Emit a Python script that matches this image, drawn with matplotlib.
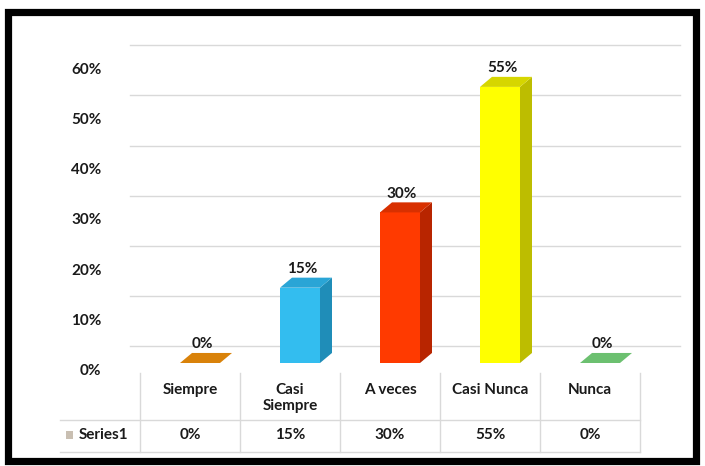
import matplotlib
matplotlib.use("Agg")
import matplotlib.pyplot as plt
import matplotlib.transforms as mtransforms
from matplotlib.patches import Polygon, Rectangle

categories  = ["Siempre", "Casi\nSiempre", "A veces", "Casi Nunca", "Nunca"]
values      = [0, 15, 30, 55, 0]
series_name = "Series1"
yticks      = [0, 10, 20, 30, 40, 50, 60]

FRONT = ["#D9820A", "#33BDEF", "#FF3A00", "#FFFF00", "#6CC070"]
SIDE  = ["#A86000", "#1F8DB8", "#B82500", "#BDBD00", "#4E9A52"]
TOP   = ["#C87500", "#2AA5D6", "#D83000", "#D6D600", "#7ACB7E"]

W, H = 705, 466
FS = 11
fig = plt.figure(figsize=(W / 100, H / 100), dpi=100)
fig.patch.set_facecolor("white")
plt.rcParams["font.family"] = ["Lato", "DejaVu Sans"]

def fy(py):
    return 1 - py / H

# plot area: index i -> px 200+100i ; 0% -> py 363, 5.02 px per %
ax = fig.add_axes([130 / W, fy(363), 550 / W, (363 - 30) / H])
ax.set_xlim(-0.7, 4.8)
ax.set_ylim(0, (363 - 30) / 5.02)
ax.axis("off")

dx, dy = 0.12, 2.0      # bar depth
gshift = 3.3            # back wall offset

for v in yticks:
    ax.plot([-0.7, 4.8], [v + gshift, v + gshift], color="#D9D9D9", lw=1.0,
            zorder=0, clip_on=False)

off = mtransforms.ScaledTranslation(0, -0.08, fig.dpi_scale_trans)
for v in yticks:
    ax.text(-0.052, v, f"{v}%", transform=ax.get_yaxis_transform() + off,
            ha="right", va="center", fontsize=FS, fontweight="bold",
            color="#1a1a1a")

hw = 0.2
xs = list(range(len(values)))
ax.bar(xs, values, width=2 * hw, color=FRONT, zorder=3, linewidth=0)
for i, v in enumerate(values):
    side = [(i + hw, 0), (i + hw + dx, dy), (i + hw + dx, v + dy), (i + hw, v)]
    top = [(i - hw, v), (i + hw, v), (i + hw + dx, v + dy), (i - hw + dx, v + dy)]
    if v > 0:
        ax.add_patch(Polygon(side, closed=True, fc=SIDE[i], ec="none", zorder=3))
    ax.add_patch(Polygon(top, closed=True, fc=TOP[i] if v > 0 else FRONT[i],
                         ec="none", zorder=3))
    ax.text(i + 0.02, v + dy + 1.7, f"{v}%", ha="center", va="center",
            fontsize=FS, fontweight="bold", color="#1a1a1a", zorder=4)

# data table under the chart
tr = mtransforms.blended_transform_factory(ax.transData, fig.transFigure)
edges = [i - 0.6 for i in range(len(values) + 1)]
for e in edges:
    fig.add_artist(plt.Line2D([e, e], [fy(373), fy(452)], transform=tr,
                              color="#D9D9D9", lw=1.0))
for py in (420, 452):
    fig.add_artist(plt.Line2D([60 / W, 640 / W], [fy(py), fy(py)],
                              transform=fig.transFigure, color="#D9D9D9", lw=1.0))

for i, (c, v) in enumerate(zip(categories, values)):
    fig.text(i - 0.1, fy(383), c, transform=tr, ha="center", va="top",
             fontsize=FS, fontweight="bold", color="#1a1a1a", linespacing=1.2)
    fig.text(i - 0.1, fy(435), f"{v}%", transform=tr, ha="center", va="center",
             fontsize=FS, fontweight="bold", color="#1a1a1a")

fig.add_artist(Rectangle((66 / W, fy(439)), 7 / W, 8 / H,
                         transform=fig.transFigure, fc="#C9BFB2", ec="none"))
fig.text(79 / W, fy(435), series_name, ha="left", va="center",
         fontsize=FS, fontweight="bold", color="#1a1a1a")

# black frame
fig.add_artist(Rectangle((7.5 / W, fy(461)), (696 - 7.5) / W, (461 - 12) / H,
                         transform=fig.transFigure, fill=False, ec="black",
                         lw=5.2))

fig.savefig("out.png", dpi=100, facecolor="white")
